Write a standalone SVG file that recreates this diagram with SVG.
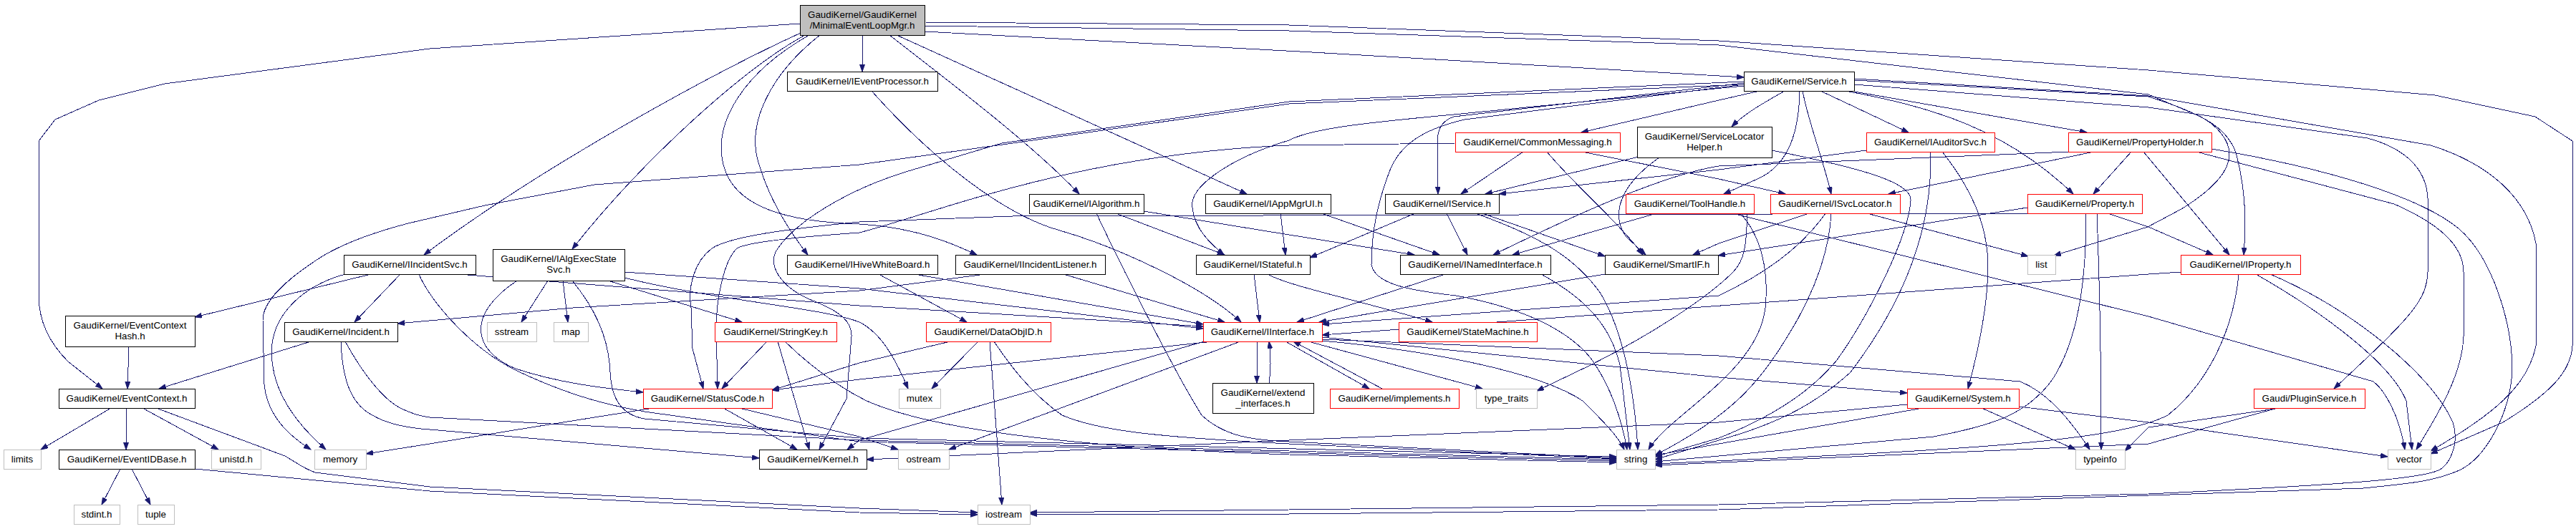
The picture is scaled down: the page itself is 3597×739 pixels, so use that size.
<svg xmlns="http://www.w3.org/2000/svg" width="3597" height="739" viewBox="0 0 3597 739">
<style>
rect{fill:#fff;stroke-width:1;shape-rendering:crispEdges}
.k rect{stroke:#000}
.r rect{stroke:#f00}
.s rect{stroke:#bfbfbf}
.m rect{fill:#bfbfbf;stroke:#000}
text{font-family:"Liberation Sans",Arial,sans-serif;font-size:13.33px;text-anchor:middle;fill:#000}
.e path{fill:none;stroke:#191970;stroke-width:1;marker-end:url(#a);shape-rendering:crispEdges}
</style>
<defs>
<marker id="a" markerUnits="userSpaceOnUse" markerWidth="11" markerHeight="8" refX="10" refY="3.5" orient="auto">
<path d="M0,0 L10,3.5 L0,7 Z" fill="#191970" stroke="#191970" stroke-width="1"/>
</marker>
</defs>
<rect x="0" y="0" width="3597" height="739" style="fill:#fff;stroke:none"/>
<g id="edges" class="e">
<path d="M1117,33 L600,68 L230,117 L138,140 L77,167 L54,197 L54,413 C54,450 70,480 95,505 L143,543"/>
<path d="M1204,49 L1204,100"/>
<path d="M1291,44 C1600,58 2200,95 2435,108"/>
<path d="M1291,36 L1800,43 L2400,63 L3000,132 L3073,163 C3095,175 3113,195 3113,215 C3113,240 3090,265 3046,292 L2999,317 L2868,357"/>
<path d="M1291,31 L1800,35 L2400,57 L3000,98 L3400,133 L3540,163 L3592,197 L3592,483 C3590,520 3560,550 3495,590 L3394,634"/>
<path d="M1124,49 C1040,95 900,220 799,348"/>
<path d="M1118,46 C1000,100 760,230 592,356"/>
<path d="M1145,49 C1080,100 1040,170 1060,230 C1075,280 1100,320 1128,356"/>
<path d="M1130,49 C1040,100 995,170 1010,230 C1025,290 1100,310 1200,313 C1280,318 1330,340 1364,356"/>
<path d="M1242,49 C1320,110 1440,200 1507,271"/>
<path d="M1252,49 L1741,271"/>
<path d="M1217,127 C1300,220 1400,300 1480,322 C1560,345 1680,400 1733,450"/>
<path d="M2457,127 L2400,140 L2208,185"/>
<path d="M2492,127 C2470,140 2440,155 2418,177"/>
<path d="M2542,127 L2591,150 L2665,185"/>
<path d="M2584,127 L2914,185"/>
<path d="M2435,116 L2030,163 C2010,170 2007,185 2007,200 L2008,271"/>
<path d="M2513,127 C2512,180 2500,230 2454,250 L2407,271"/>
<path d="M2517,127 C2525,170 2545,220 2557,271"/>
<path d="M2577,127 C2700,150 2800,180 2895,271"/>
<path d="M2589,112 L3000,135 C3080,160 3110,180 3122,213 C3135,260 3137,310 3133,356"/>
<path d="M2589,118 L3000,150 L3306,193 C3350,205 3388,230 3390,277 L3390,380 C3388,420 3370,440 3259,543"/>
<path d="M2589,110 L3000,134 L3394,203 C3480,230 3530,280 3541,340 L3541,483 C3530,540 3480,580 3394,630"/>
<path d="M2435,120 L2030,160 C1900,172 1830,180 1800,196 C1720,220 1660,260 1665,290 C1668,320 1690,340 1709,356"/>
<path d="M2435,114 L1800,142 L1399,200 L1265,240 C1200,260 1120,300 1086,347 C1070,370 1090,400 1130,418 C1175,435 1190,450 1189,470 L1182,557 L1144,628"/>
<path d="M2435,118 L1800,145 L1400,202 L1200,230 L830,258 L677,287 L570,312 C520,325 480,340 450,358 C400,390 367,420 367,447 L369,537 C372,570 390,600 434,628"/>
<path d="M2435,118 L2045,167 C1990,180 1955,200 1940,240 C1925,280 1915,320 1915,370 C1920,395 1960,405 2033,413 C2100,425 2180,450 2221,500 C2250,540 2265,590 2272,628"/>
<path d="M2127,212 L2040,271"/>
<path d="M2160,212 C2200,260 2260,310 2294,356"/>
<path d="M2209,212 L2400,250 L2493,271"/>
<path d="M2032,200 L1800,203 C1500,215 1300,300 1200,325 C1100,332 1040,340 1029,347 C1010,365 1000,420 1000,460 L1002,543"/>
<path d="M2288,219 L2074,271"/>
<path d="M2317,220 C2260,260 2250,300 2270,330 L2298,356"/>
<path d="M2474,210 C2600,235 2670,255 2668,280 C2665,330 2610,440 2565,503 C2530,545 2480,580 2400,612 L2311,638"/>
<path d="M2606,210 L2400,237 L2093,271"/>
<path d="M2712,212 C2750,260 2775,310 2776,370 C2776,420 2765,480 2748,543"/>
<path d="M2695,212 L2695,250 C2690,330 2660,420 2584,520 C2540,560 2490,590 2400,615 L2311,642"/>
<path d="M2976,212 L2923,271"/>
<path d="M2993,212 L3113,356"/>
<path d="M3067,212 L3343,285 C3400,310 3440,340 3440,380 L3440,470 C3438,520 3410,570 3374,628"/>
<path d="M3088,208 C3250,235 3380,275 3434,320 C3480,360 3508,450 3508,517 C3505,580 3470,640 3434,657 C3400,672 3370,675 3300,682 L2400,712 L1800,718 L1438,718"/>
<path d="M2924,212 L2637,271"/>
<path d="M2890,212 L2400,232 C2320,245 2200,300 2085,356"/>
<path d="M2313,298 L2112,356"/>
<path d="M2430,298 C2460,330 2470,380 2465,430 C2455,520 2330,580 2302,628"/>
<path d="M2440,298 C2438,330 2440,360 2420,380 C2380,420 2300,470 2221,510 L2146,546"/>
<path d="M2419,298 L3000,442 L3314,533 C3330,545 3350,580 3358,628"/>
<path d="M2526,298 L2400,340 L2364,356"/>
<path d="M2549,298 C2520,340 2470,380 2400,413 L1846,453"/>
<path d="M2557,298 C2555,340 2540,400 2496,470 C2460,530 2420,580 2311,636"/>
<path d="M2607,298 L2832,358"/>
<path d="M2943,298 L3000,317 L3090,356"/>
<path d="M2928,298 C2932,400 2934,500 2934,628"/>
<path d="M2831,290 L2399,357"/>
<path d="M2831,298 L1414,302 L1200,310 C1100,320 1020,330 994,347 C970,365 960,400 965,430 L967,487 L982,543"/>
<path d="M2913,298 C2913,380 2905,470 2866,530 C2830,580 2780,595 2700,610 L2311,645"/>
<path d="M3045,380 L3000,383 L1846,468"/>
<path d="M3126,383 C3120,450 3090,530 3027,580 C2950,620 2700,630 2311,648"/>
<path d="M3150,383 C3250,440 3340,510 3360,560 L3368,628"/>
<path d="M3170,383 C3280,430 3394,520 3425,590 C3435,620 3420,650 3405,657 C3380,668 3300,676 3000,690 L2400,705 L1800,712 L1438,716"/>
<path d="M2767,570 L2898,628"/>
<path d="M2819,568 L3000,590 L3334,638"/>
<path d="M2663,565 L2400,590 L1800,615 L1210,642"/>
<path d="M2685,570 L2400,620 L2311,636"/>
<path d="M3180,570 L3000,620 L2311,650"/>
<path d="M3184,570 L3000,597 L2967,630"/>
<path d="M1694,477 L1200,530 L1078,545"/>
<path d="M1685,476 L1200,615 L1183,628"/>
<path d="M1732,477 L1325,628"/>
<path d="M1755,477 L1755,535"/>
<path d="M1772,535 C1775,515 1775,500 1772,477"/>
<path d="M1795,477 L1912,543"/>
<path d="M1930,543 L1806,477"/>
<path d="M1827,477 L2070,543"/>
<path d="M1846,474 L2400,497 L2821,533 C2850,545 2880,570 2918,628"/>
<path d="M1846,471 L2400,527 L2663,549"/>
<path d="M1846,476 C2000,490 2150,520 2210,560 C2240,590 2260,610 2268,628"/>
<path d="M1751,383 L1759,450"/>
<path d="M1770,383 C1800,400 1900,420 2000,450"/>
<path d="M2018,383 L1811,450"/>
<path d="M2152,383 C2220,420 2250,460 2262,510 L2276,628"/>
<path d="M2241,383 L1842,450"/>
<path d="M1597,295 L1800,328 L1975,356"/>
<path d="M1558,298 L1710,356"/>
<path d="M1531,298 C1560,360 1640,520 1678,580 C1710,610 1750,615 1800,617 L2257,640"/>
<path d="M1845,298 L2010,356"/>
<path d="M1788,298 L1795,356"/>
<path d="M2020,298 L2049,356"/>
<path d="M2060,298 C2150,330 2200,360 2235,410 C2265,460 2282,540 2287,628"/>
<path d="M1976,298 L1829,360"/>
<path d="M2070,298 L2241,358"/>
<path d="M518,383 L272,443"/>
<path d="M559,383 L495,450"/>
<path d="M482,383 C420,400 385,440 380,480 C375,530 400,580 455,628"/>
<path d="M640,383 L1200,427 L1680,456"/>
<path d="M585,383 C600,420 660,490 726,520 C780,545 830,563 900,575 L1200,617 L2257,644"/>
<path d="M765,392 L728,450"/>
<path d="M786,392 L793,450"/>
<path d="M849,392 L1036,450"/>
<path d="M722,392 C650,440 660,490 720,515 C780,535 840,542 898,548"/>
<path d="M872,380 L1200,403 L1680,459"/>
<path d="M799,392 C830,430 850,470 852,520 C854,560 870,580 900,585 L1200,612 L2257,638"/>
<path d="M872,388 C1000,420 1150,430 1200,450 C1230,465 1250,500 1268,543"/>
<path d="M1227,383 L1350,450"/>
<path d="M1277,383 L1680,453"/>
<path d="M1376,383 L1200,406 L800,430 L555,452"/>
<path d="M1485,383 L1710,450"/>
<path d="M1327,477 L1200,507 L1078,545"/>
<path d="M1366,477 L1301,543"/>
<path d="M1382,477 L1399,705"/>
<path d="M1388,477 C1410,510 1440,550 1483,580 C1530,600 1600,610 1800,620 L2257,641"/>
<path d="M1071,477 L1008,543"/>
<path d="M1086,477 L1130,628"/>
<path d="M1096,477 C1130,510 1170,540 1210,560 C1300,600 1500,625 1800,635 L2257,646"/>
<path d="M434,477 L222,543"/>
<path d="M476,477 C478,530 490,565 520,580 C540,592 570,598 600,600 L1060,640"/>
<path d="M482,477 C500,510 530,555 559,570 C575,578 590,582 600,583 L1200,615 L1800,630 L2257,642"/>
<path d="M180,484 L178,543"/>
<path d="M155,570 L57,628"/>
<path d="M176,570 L176,628"/>
<path d="M199,570 L305,628"/>
<path d="M218,570 L398,637 C415,647 425,655 440,660 L600,680 L1200,710 L1365,716"/>
<path d="M272,655 L600,686 L1200,716 L1365,719"/>
<path d="M168,655 L142,705"/>
<path d="M184,655 L210,705"/>
<path d="M912,570 L742,597 L600,620 L511,634"/>
<path d="M1010,570 L1113,628"/>
<path d="M1032,570 L1200,610 L1254,628"/>
</g>
<g id="n0" class="m"><rect x="1117" y="7" width="174" height="42"/><text x="1204" y="25">GaudiKernel/GaudiKernel</text><text x="1204" y="40">/MinimalEventLoopMgr.h</text></g>
<g id="n1" class="k"><rect x="1099" y="100" width="210" height="27"/><text x="1204" y="118">GaudiKernel/IEventProcessor.h</text></g>
<g id="n2" class="k"><rect x="2435" y="100" width="154" height="27"/><text x="2512" y="118">GaudiKernel/Service.h</text></g>
<g id="n3" class="r"><rect x="2032" y="185" width="230" height="27"/><text x="2147" y="203">GaudiKernel/CommonMessaging.h</text></g>
<g id="n4" class="k"><rect x="2286" y="177" width="188" height="43"/><text x="2380" y="195">GaudiKernel/ServiceLocator</text><text x="2380" y="210">Helper.h</text></g>
<g id="n5" class="r"><rect x="2606" y="185" width="179" height="27"/><text x="2695.5" y="203">GaudiKernel/IAuditorSvc.h</text></g>
<g id="n6" class="r"><rect x="2888" y="185" width="200" height="27"/><text x="2988" y="203">GaudiKernel/PropertyHolder.h</text></g>
<g id="n7" class="k"><rect x="1437" y="271" width="160" height="27"/><text x="1517" y="289">GaudiKernel/IAlgorithm.h</text></g>
<g id="n8" class="k"><rect x="1683" y="271" width="175" height="27"/><text x="1770.5" y="289">GaudiKernel/IAppMgrUI.h</text></g>
<g id="n9" class="k"><rect x="1934" y="271" width="159" height="27"/><text x="2013.5" y="289">GaudiKernel/IService.h</text></g>
<g id="n10" class="r"><rect x="2270" y="271" width="179" height="27"/><text x="2359.5" y="289">GaudiKernel/ToolHandle.h</text></g>
<g id="n11" class="r"><rect x="2472" y="271" width="181" height="27"/><text x="2562.5" y="289">GaudiKernel/ISvcLocator.h</text></g>
<g id="n12" class="r"><rect x="2831" y="271" width="160" height="27"/><text x="2911" y="289">GaudiKernel/Property.h</text></g>
<g id="n13" class="k"><rect x="480" y="356" width="184" height="27"/><text x="572" y="374">GaudiKernel/IIncidentSvc.h</text></g>
<g id="n14" class="k"><rect x="688" y="348" width="184" height="44"/><text x="780" y="366">GaudiKernel/IAlgExecState</text><text x="780" y="381">Svc.h</text></g>
<g id="n15" class="k"><rect x="1099" y="356" width="210" height="27"/><text x="1204" y="374">GaudiKernel/IHiveWhiteBoard.h</text></g>
<g id="n16" class="k"><rect x="1334" y="356" width="209" height="27"/><text x="1438.5" y="374">GaudiKernel/IIncidentListener.h</text></g>
<g id="n17" class="k"><rect x="1670" y="356" width="159" height="27"/><text x="1749.5" y="374">GaudiKernel/IStateful.h</text></g>
<g id="n18" class="k"><rect x="1955" y="356" width="210" height="27"/><text x="2060" y="374">GaudiKernel/INamedInterface.h</text></g>
<g id="n19" class="k"><rect x="2241" y="356" width="158" height="27"/><text x="2320" y="374">GaudiKernel/SmartIF.h</text></g>
<g id="n20" class="s"><rect x="2831" y="356" width="39" height="27"/><text x="2850.5" y="374">list</text></g>
<g id="n21" class="r"><rect x="3045" y="356" width="167" height="27"/><text x="3128.5" y="374">GaudiKernel/IProperty.h</text></g>
<g id="n22" class="k"><rect x="91" y="441" width="181" height="43"/><text x="181.5" y="459">GaudiKernel/EventContext</text><text x="181.5" y="474">Hash.h</text></g>
<g id="n23" class="k"><rect x="397" y="450" width="158" height="27"/><text x="476" y="468">GaudiKernel/Incident.h</text></g>
<g id="n24" class="s"><rect x="680" y="450" width="69" height="27"/><text x="714.5" y="468">sstream</text></g>
<g id="n25" class="s"><rect x="773" y="450" width="48" height="27"/><text x="797" y="468">map</text></g>
<g id="n26" class="r"><rect x="998" y="450" width="170" height="27"/><text x="1083" y="468">GaudiKernel/StringKey.h</text></g>
<g id="n27" class="r"><rect x="1293" y="450" width="174" height="27"/><text x="1380" y="468">GaudiKernel/DataObjID.h</text></g>
<g id="n28" class="r"><rect x="1680" y="450" width="166" height="27"/><text x="1763" y="468">GaudiKernel/IInterface.h</text></g>
<g id="n29" class="r"><rect x="1953" y="450" width="193" height="27"/><text x="2049.5" y="468">GaudiKernel/StateMachine.h</text></g>
<g id="n30" class="k"><rect x="82" y="543" width="190" height="27"/><text x="177" y="561">GaudiKernel/EventContext.h</text></g>
<g id="n31" class="r"><rect x="898" y="543" width="180" height="27"/><text x="988" y="561">GaudiKernel/StatusCode.h</text></g>
<g id="n32" class="s"><rect x="1255" y="543" width="58" height="27"/><text x="1284" y="561">mutex</text></g>
<g id="n33" class="k"><rect x="1693" y="535" width="141" height="42"/><text x="1763.5" y="553">GaudiKernel/extend</text><text x="1763.5" y="568">_interfaces.h</text></g>
<g id="n34" class="r"><rect x="1857" y="543" width="180" height="27"/><text x="1947" y="561">GaudiKernel/implements.h</text></g>
<g id="n35" class="s"><rect x="2061" y="543" width="85" height="27"/><text x="2103.5" y="561">type_traits</text></g>
<g id="n36" class="r"><rect x="2663" y="543" width="156" height="27"/><text x="2741" y="561">GaudiKernel/System.h</text></g>
<g id="n37" class="r"><rect x="3147" y="543" width="155" height="27"/><text x="3224.5" y="561">Gaudi/PluginService.h</text></g>
<g id="n38" class="s"><rect x="5" y="628" width="52" height="27"/><text x="31" y="646">limits</text></g>
<g id="n39" class="k"><rect x="82" y="628" width="190" height="27"/><text x="177" y="646">GaudiKernel/EventIDBase.h</text></g>
<g id="n40" class="s"><rect x="295" y="628" width="69" height="27"/><text x="329.5" y="646">unistd.h</text></g>
<g id="n41" class="s"><rect x="439" y="628" width="72" height="27"/><text x="475" y="646">memory</text></g>
<g id="n42" class="k"><rect x="1060" y="628" width="150" height="27"/><text x="1135" y="646">GaudiKernel/Kernel.h</text></g>
<g id="n43" class="s"><rect x="1254" y="628" width="71" height="27"/><text x="1289.5" y="646">ostream</text></g>
<g id="n44" class="s"><rect x="2257" y="628" width="54" height="27"/><text x="2284" y="646">string</text></g>
<g id="n45" class="s"><rect x="2898" y="628" width="69" height="27"/><text x="2932.5" y="646">typeinfo</text></g>
<g id="n46" class="s"><rect x="3334" y="628" width="60" height="27"/><text x="3364" y="646">vector</text></g>
<g id="n47" class="s"><rect x="103" y="705" width="64" height="27"/><text x="135" y="723">stdint.h</text></g>
<g id="n48" class="s"><rect x="192" y="705" width="51" height="27"/><text x="217.5" y="723">tuple</text></g>
<g id="n49" class="s"><rect x="1365" y="705" width="73" height="27"/><text x="1401.5" y="723">iostream</text></g>
</svg>
